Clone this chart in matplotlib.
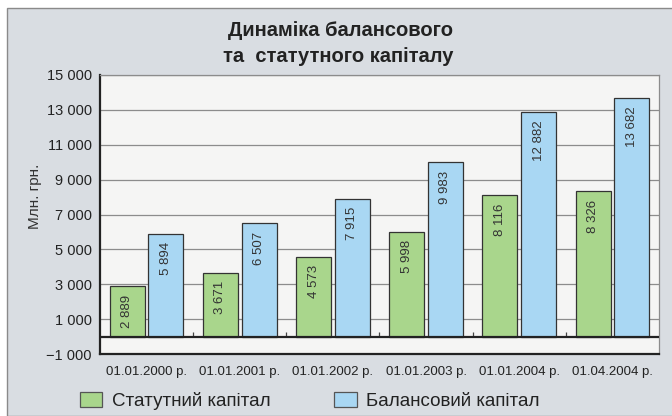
import numpy as np
import matplotlib.pyplot as plt
from matplotlib.patches import Rectangle, Patch

dates = ['01.01.2000 р.', '01.01.2001 р.', '01.01.2002 р.',
         '01.01.2003 р.', '01.01.2004 р.', '01.04.2004 р.']
statutory = [2889, 3671, 4573, 5998, 8116, 8326]
balance = [5894, 6507, 7915, 9983, 12882, 13682]

green = '#a9d68c'
blue = '#a9d7f3'


def fmt(v):
    s = f'{abs(v):,}'.replace(',', ' ')
    return '\u2212' + s if v < 0 else s


plt.rcParams['font.family'] = ['Liberation Sans', 'DejaVu Sans']

fig = plt.figure(figsize=(6.72, 4.16), dpi=100, facecolor='white')
# grey panel behind the chart
fig.patches.append(Rectangle((7 / 672, 0), 1, 1 - 8 / 416, transform=fig.transFigure,
                             facecolor='#d9dde2', edgecolor='#8a8a8a', lw=1, zorder=-1))

ax = fig.add_axes([100 / 672, 1 - 354 / 416, 559 / 672, 279 / 416])
ax.set_facecolor('#f5f5f4')

x = np.arange(len(dates))
w = 0.375
gap = 0.02
b1 = ax.bar(x - w / 2 - gap, statutory, w, color=green, edgecolor='#333333', lw=0.9, zorder=3)
b2 = ax.bar(x + w / 2 + gap, balance, w, color=blue, edgecolor='#333333', lw=0.9, zorder=3)

for bars, vals in ((b1, statutory), (b2, balance)):
    for r, v in zip(bars, vals):
        ax.annotate(fmt(v), (r.get_x() + r.get_width() / 2, v), xytext=(0, -6),
                    textcoords='offset points', rotation=90, ha='center', va='top',
                    fontsize=9.5, color='#333333', zorder=4)

ax.set_xlim(-0.5, len(dates) - 0.5)
ax.set_ylim(-1000, 15000)
yt = np.arange(-1000, 15001, 2000)
ax.set_yticks(yt)
ax.set_yticklabels([fmt(v) for v in yt], fontsize=10.5, color='#222222')
ax.yaxis.grid(True, color='#8c8c8c', lw=0.9, zorder=1)
ax.tick_params(axis='y', length=0, pad=6)

ax.set_xticks(x)
ax.set_xticklabels(dates, fontsize=9.5, color='#222222',
                   family=['Liberation Sans Narrow', 'Liberation Sans'])
ax.tick_params(axis='x', length=0, pad=9)

ax.axhline(0, color='#222222', lw=1.6, zorder=4)
ax.vlines(x[:-1] + 0.5, 0, 280, color='#444444', lw=0.9, zorder=2)

for s in ('left', 'bottom'):
    ax.spines[s].set_color('#222222')
    ax.spines[s].set_linewidth(1.6)
for s in ('top', 'right'):
    ax.spines[s].set_color('#8c8c8c')
    ax.spines[s].set_linewidth(0.9)

fig.text(35 / 672, 1 - 196 / 416, 'Млн. грн.', rotation=90, ha='center', va='center',
         fontsize=11, color='#333333')

fig.text(341 / 672, 1 - 30 / 416, 'Динаміка балансового', ha='center', va='center',
         fontsize=14.5, fontweight='bold', color='#222222')
fig.text(338 / 672, 1 - 56 / 416, 'та  статутного капіталу', ha='center', va='center',
         fontsize=14.5, fontweight='bold', color='#222222')

handles = [Patch(facecolor=green, edgecolor='#555555', lw=0.9),
           Patch(facecolor=blue, edgecolor='#555555', lw=0.9)]
fig.legend(handles, ['Статутний капітал', 'Балансовий капітал'], ncol=2,
           loc='center left', bbox_to_anchor=(63 / 672, 1 - 401 / 416), frameon=False,
           fontsize=13.5, handlelength=1.2, handleheight=0.9, handletextpad=0.5,
           columnspacing=3.4, labelcolor='#222222')

fig.savefig('out.png', dpi=100, facecolor=fig.get_facecolor())
